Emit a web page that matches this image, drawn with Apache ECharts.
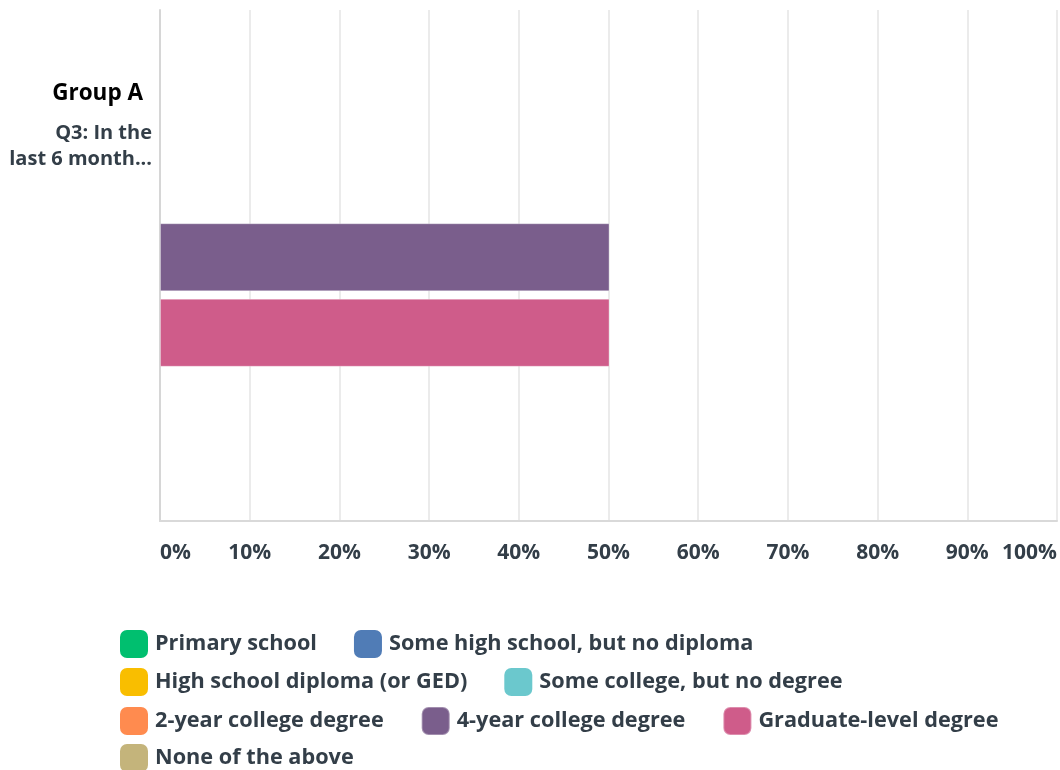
<!DOCTYPE html>
<html>
<head>
<meta charset="utf-8">
<script src="https://cdn.jsdelivr.net/npm/echarts@6/dist/echarts.min.js"></script>
<style>
  html, body { margin: 0; padding: 0; background: #ffffff; }
  #chart { width: 1060px; height: 770px; }
</style>
</head>
<body>
<div id="chart"></div>
<script>
// Question shown on the category axis, and the group heading above it
const groupTitle = 'Group A';
const categories = ['Q3: In the last 6 month...'];

// Answer options (series), their colours and their shares in percent
const seriesNames = [
  'Primary school',
  'Some high school, but no diploma',
  'High school diploma (or GED)',
  'Some college, but no degree',
  '2-year college degree',
  '4-year college degree',
  'Graduate-level degree',
  'None of the above'
];
const seriesColors = [
  '#00bf6f', '#507cb6', '#f9be00', '#6bc8cd',
  '#ff8b4f', '#7a5e8c', '#cf5c8a', '#c4b47b'
];
const seriesValues = [
  [0], [0], [0], [0], [0], [50], [50], [0]
];

// Value axis ticks (percent)
const tickMin = 0;
const tickMax = 100;
const tickStep = 10;

// Legend rows, listed by series index
const legendRows = [[0, 1], [2, 3], [4, 5, 6], [7]];

const textColor = '#333e48';
const fontFamily = '"Open Sans", "Noto Sans", sans-serif';

const chart = echarts.init(document.getElementById('chart'), null, { renderer: 'canvas' });

// Options with a share go on the bar grid; empty options stay on the frame grid
const series = seriesNames.map((name, i) => {
  const hasShare = seriesValues[i].some(v => v > 0);
  return {
    name: name,
    type: 'bar',
    xAxisIndex: hasShare ? 1 : 0,
    yAxisIndex: hasShare ? 1 : 0,
    data: seriesValues[i],
    barWidth: 68,
    barGap: '11%',
    itemStyle: hasShare
      ? { color: seriesColors[i], borderColor: 'rgba(255,255,255,0.3)', borderWidth: 1 }
      : { color: seriesColors[i], borderWidth: 0 },
    emphasis: { disabled: true }
  };
});

const legends = legendRows.map((row, r) => ({
  left: 120,
  top: 630 + r * 38,
  orient: 'horizontal',
  padding: 0,
  itemGap: 37,
  itemWidth: 28,
  itemHeight: 28,
  icon: 'roundRect',
  selectedMode: false,
  data: row.map(i => seriesNames[i]),
  textStyle: {
    color: textColor,
    fontSize: 21.7,
    fontWeight: 'bold',
    fontFamily: fontFamily,
    padding: [0, 0, 0, 2]
  }
}));

chart.setOption({
  animation: false,
  backgroundColor: '#ffffff',
  title: {
    text: groupTitle,
    right: 917,
    top: 82,
    padding: 0,
    textStyle: {
      color: '#000000',
      fontSize: 22.5,
      fontWeight: 'bold',
      fontFamily: fontFamily
    }
  },
  legend: legends,
  grid: [
    { left: 160, right: 1, top: 10, bottom: 249, containLabel: false },
    { left: 160, right: 1, top: 69, bottom: 249, containLabel: false }
  ],
  xAxis: [
    {
      type: 'value',
      gridIndex: 0,
      min: tickMin,
      max: tickMax,
      interval: tickStep,
      axisLine: { show: true, onZero: false, lineStyle: { color: '#d9d9d9', width: 2 } },
      axisTick: { show: false },
      splitLine: { show: true, lineStyle: { color: '#ebebeb', width: 2 } },
      axisLabel: {
        formatter: '{value}%',
        margin: 22,
        color: textColor,
        fontSize: 21,
        fontWeight: 'bold',
        fontFamily: fontFamily,
        alignMinLabel: 'left',
        alignMaxLabel: 'right'
      }
    },
    {
      type: 'value',
      gridIndex: 1,
      min: tickMin,
      max: tickMax,
      show: false,
      splitLine: { show: false }
    }
  ],
  yAxis: [
    {
      type: 'category',
      gridIndex: 0,
      data: categories,
      axisLine: { show: true, lineStyle: { color: '#d6d6d6', width: 2 } },
      axisTick: { show: false },
      splitLine: { show: false },
      axisLabel: {
        margin: 8,
        color: textColor,
        fontSize: 20,
        fontWeight: 'bold',
        fontFamily: fontFamily,
        lineHeight: 26,
        align: 'right',
        verticalAlign: 'bottom',
        padding: [0, 0, 93, 0],
        formatter: function (value) {
          const cut = value.indexOf(' last');
          return cut > 0 ? value.slice(0, cut) + '\n' + value.slice(cut + 1) : value;
        }
      }
    },
    {
      type: 'category',
      gridIndex: 1,
      data: categories,
      show: false
    }
  ],
  series: series
});
</script>
</body>
</html>
